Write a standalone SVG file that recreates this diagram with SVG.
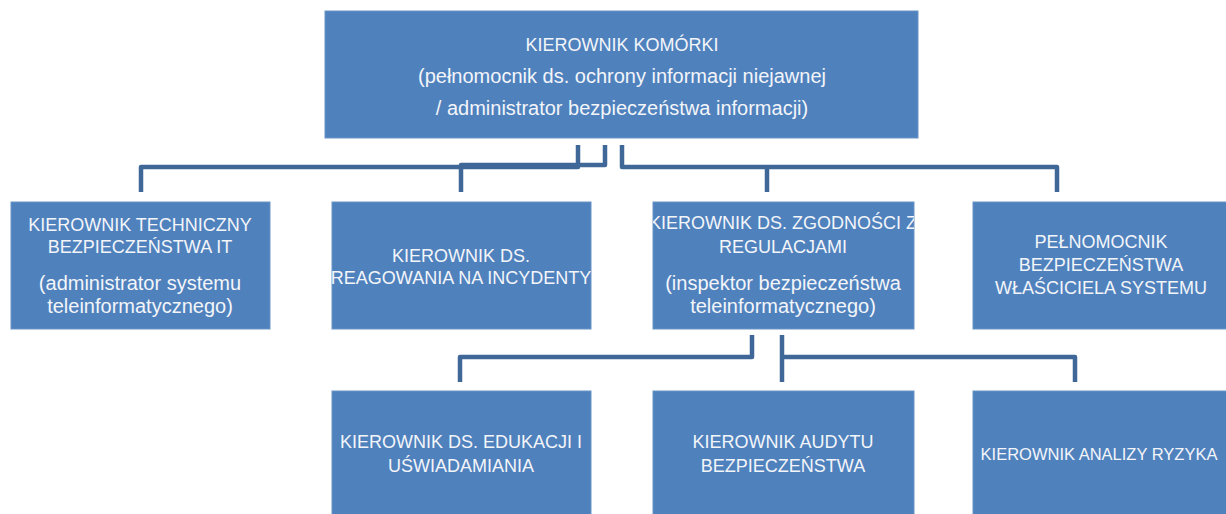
<svg xmlns="http://www.w3.org/2000/svg" width="1226" height="514" viewBox="0 0 1226 514">
<style>
.box{fill:#4F81BD;stroke:#6B95C8;stroke-width:1}
.t{font-family:"Liberation Sans",Arial,sans-serif;fill:#F3F5F9;text-anchor:middle}
.c{font-size:18px}
.l{font-size:20px}
.con{fill:none;stroke:#3F6898;stroke-width:4.5;stroke-linejoin:round}
</style>
<defs>
<clipPath id="cb2"><rect x="332" y="202" width="259" height="127"/></clipPath>
<clipPath id="cb3"><rect x="653" y="202" width="261" height="127"/></clipPath>
<clipPath id="cb4"><rect x="973" y="202" width="260" height="127"/></clipPath>
</defs>
<rect width="1226" height="514" fill="#FFFFFF"/>
<g id="connectors">
<path class="con" d="M578,145 V167 H141 V192"/>
<path class="con" d="M605,145 V165 H461 V192"/>
<path class="con" d="M622,145 V167 H1057 V192"/>
<path class="con" d="M767,167 V192"/>
<path class="con" d="M752,335 V357 H460 V382"/>
<path class="con" d="M782,335 V382"/>
<path class="con" d="M782,357 H1075 V382"/>
</g>
<g id="n0">
<rect class="box" x="325" y="11" width="593" height="127"/>
<text class="t c" x="622" y="51">KIEROWNIK KOMÓRKI</text>
<text class="t l" x="622" y="83">(pełnomocnik ds. ochrony informacji niejawnej</text>
<text class="t l" x="622" y="115">/ administrator bezpieczeństwa informacji)</text>
</g>
<g id="n1">
<rect class="box" x="11" y="202" width="259" height="127"/>
<text class="t c" x="140" y="231">KIEROWNIK TECHNICZNY</text>
<text class="t c" x="140" y="253">BEZPIECZEŃSTWA IT</text>
<text class="t l" x="140" y="290">(administrator systemu</text>
<text class="t l" x="140" y="313">teleinformatycznego)</text>
</g>
<g id="n2">
<rect class="box" x="332" y="202" width="259" height="127"/>
<g clip-path="url(#cb2)">
<text class="t c" x="461" y="262">KIEROWNIK DS.</text>
<text class="t c" x="461" y="284">REAGOWANIA NA INCYDENTY</text>
</g>
</g>
<g id="n3">
<rect class="box" x="653" y="202" width="261" height="127"/>
<g clip-path="url(#cb3)">
<text class="t c" x="783" y="229">KIEROWNIK DS. ZGODNOŚCI Z</text>
<text class="t c" x="783" y="253">REGULACJAMI</text>
<text class="t l" x="783" y="290">(inspektor bezpieczeństwa</text>
<text class="t l" x="783" y="313">teleinformatycznego)</text>
</g>
</g>
<g id="n4">
<rect class="box" x="973" y="202" width="260" height="127"/>
<g clip-path="url(#cb4)">
<text class="t c" x="1101" y="248">PEŁNOMOCNIK</text>
<text class="t c" x="1101" y="271">BEZPIECZEŃSTWA</text>
<text class="t c" x="1101" y="294">WŁAŚCICIELA SYSTEMU</text>
</g>
</g>
<g id="n5">
<rect class="box" x="332" y="391" width="259" height="130"/>
<text class="t c" x="461" y="448">KIEROWNIK DS. EDUKACJI I</text>
<text class="t c" x="461" y="472">UŚWIADAMIANIA</text>
</g>
<g id="n6">
<rect class="box" x="653" y="391" width="261" height="130"/>
<text class="t c" x="783" y="448">KIEROWNIK AUDYTU</text>
<text class="t c" x="783" y="472">BEZPIECZEŃSTWA</text>
</g>
<g id="n7">
<rect class="box" x="973" y="391" width="260" height="130"/>
<text class="t" x="1099" y="460" font-size="16.5">KIEROWNIK ANALIZY RYZYKA</text>
</g>
</svg>
